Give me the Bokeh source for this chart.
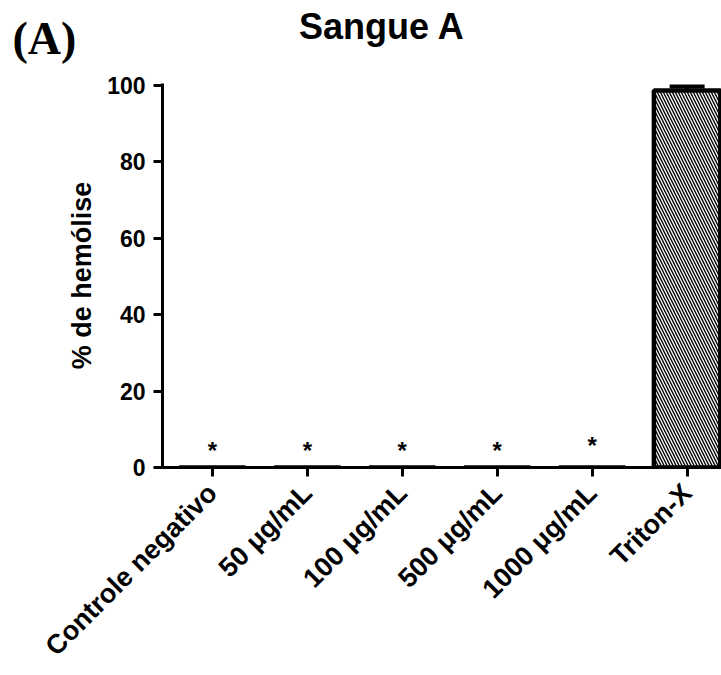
from math import pi
from bokeh.plotting import figure
from bokeh.models import Range1d, FixedTicker, Label, Whisker, TeeHead, ColumnDataSource
from bokeh.core.properties import value
from bokeh.embed import file_html
from bokeh.resources import INLINE

# ---- data ----
categories = ["Controle negativo", "50 \u03bcg/mL", "100 \u03bcg/mL", "500 \u03bcg/mL", "1000 \u03bcg/mL", "Triton-X"]
hemolysis_mean = [0.0, 0.0, 0.0, 0.0, 0.0, 98.7]
hemolysis_sd = [0.0, 0.0, 0.0, 0.0, 0.0, 1.0]
star_text = ["*", "*", "*", "*", "*"]
star_y = [4.4, 4.4, 4.4, 4.4, 5.7]
y_ticks = [0, 20, 40, 60, 80, 100]

FONT = "Liberation Sans"
xs = list(range(len(categories)))

p = figure(width=721, height=675, output_backend="svg", toolbar_location=None,
           x_range=Range1d(-0.525, 5.362), y_range=Range1d(0, 100.5),
           min_border_left=160, min_border_right=0, min_border_top=83, min_border_bottom=207)
p.outline_line_color = None
p.xgrid.visible = False
p.ygrid.visible = False
p.background_fill_color = "white"
p.border_fill_color = "white"

src = ColumnDataSource(dict(x=xs, top=hemolysis_mean))
p.vbar(x="x", top="top", bottom=0, width=0.7, source=src,
       fill_color="white", line_color="black", line_width=4.5,
       hatch_pattern="\\", hatch_color="black",
       hatch_scale=6, hatch_weight=1.4)

# error bar (upper only) for the visible bar
err_idx = [i for i, s in enumerate(hemolysis_sd) if s > 0]
esrc = ColumnDataSource(dict(x=[xs[i] for i in err_idx],
                             lower=[hemolysis_mean[i] for i in err_idx],
                             upper=[hemolysis_mean[i] + hemolysis_sd[i] for i in err_idx]))
w = Whisker(base="x", lower="lower", upper="upper", source=esrc, dimension="height",
            line_width=4, line_color="black",
            upper_head=TeeHead(size=35, line_width=4, line_color="black"),
            lower_head=None)
p.add_layout(w)

# significance marks
p.text(x=xs[:len(star_text)], y=star_y, text=star_text,
       text_font=value(FONT), text_font_size="24px", text_font_style="bold",
       text_align="center", text_baseline="middle", text_color="black")

# axes
for ax in (p.xaxis[0], p.yaxis[0]):
    ax.axis_line_width = 3
    ax.axis_line_color = "black"
    ax.major_tick_line_width = 3
    ax.major_tick_line_color = "black"
    ax.major_tick_out = 9
    ax.major_tick_in = 0
    ax.minor_tick_line_color = None
    ax.major_label_text_font = FONT
    ax.major_label_text_font_style = "bold"
    ax.major_label_text_color = "black"

p.yaxis.ticker = FixedTicker(ticks=y_ticks)
p.yaxis.major_label_text_font_size = "23px"
p.yaxis.major_label_standoff = 8
p.yaxis.axis_label = "% de hemólise"
p.yaxis.axis_label_text_font = FONT
p.yaxis.axis_label_text_font_size = "27px"
p.yaxis.axis_label_text_font_style = "bold"
p.yaxis.axis_label_text_color = "black"
p.yaxis.axis_label_standoff = 7

p.xaxis.ticker = FixedTicker(ticks=xs)
p.xaxis.major_label_overrides = {i: c for i, c in zip(xs, categories)}
p.xaxis.major_label_orientation = pi / 4
p.xaxis.major_label_text_font_size = "27px"
p.xaxis.major_label_standoff = 12

# title (top panel) and panel letter (left panel), canvas units
p.add_layout(Label(x=381.5, y=26, x_units="canvas", y_units="canvas", text="Sangue A",
                   text_font=FONT, text_font_size="36px", text_font_style="bold",
                   text_align="center", text_baseline="alphabetic", text_color="black"), "above")
p.add_layout(Label(x=12, y=38, x_units="canvas", y_units="canvas", text="(A)",
                   text_font="Liberation Serif", text_font_size="46px", text_font_style="bold",
                   text_align="left", text_baseline="alphabetic", text_color="black"), "left")

open("out.html", "w").write(file_html(p, INLINE))
